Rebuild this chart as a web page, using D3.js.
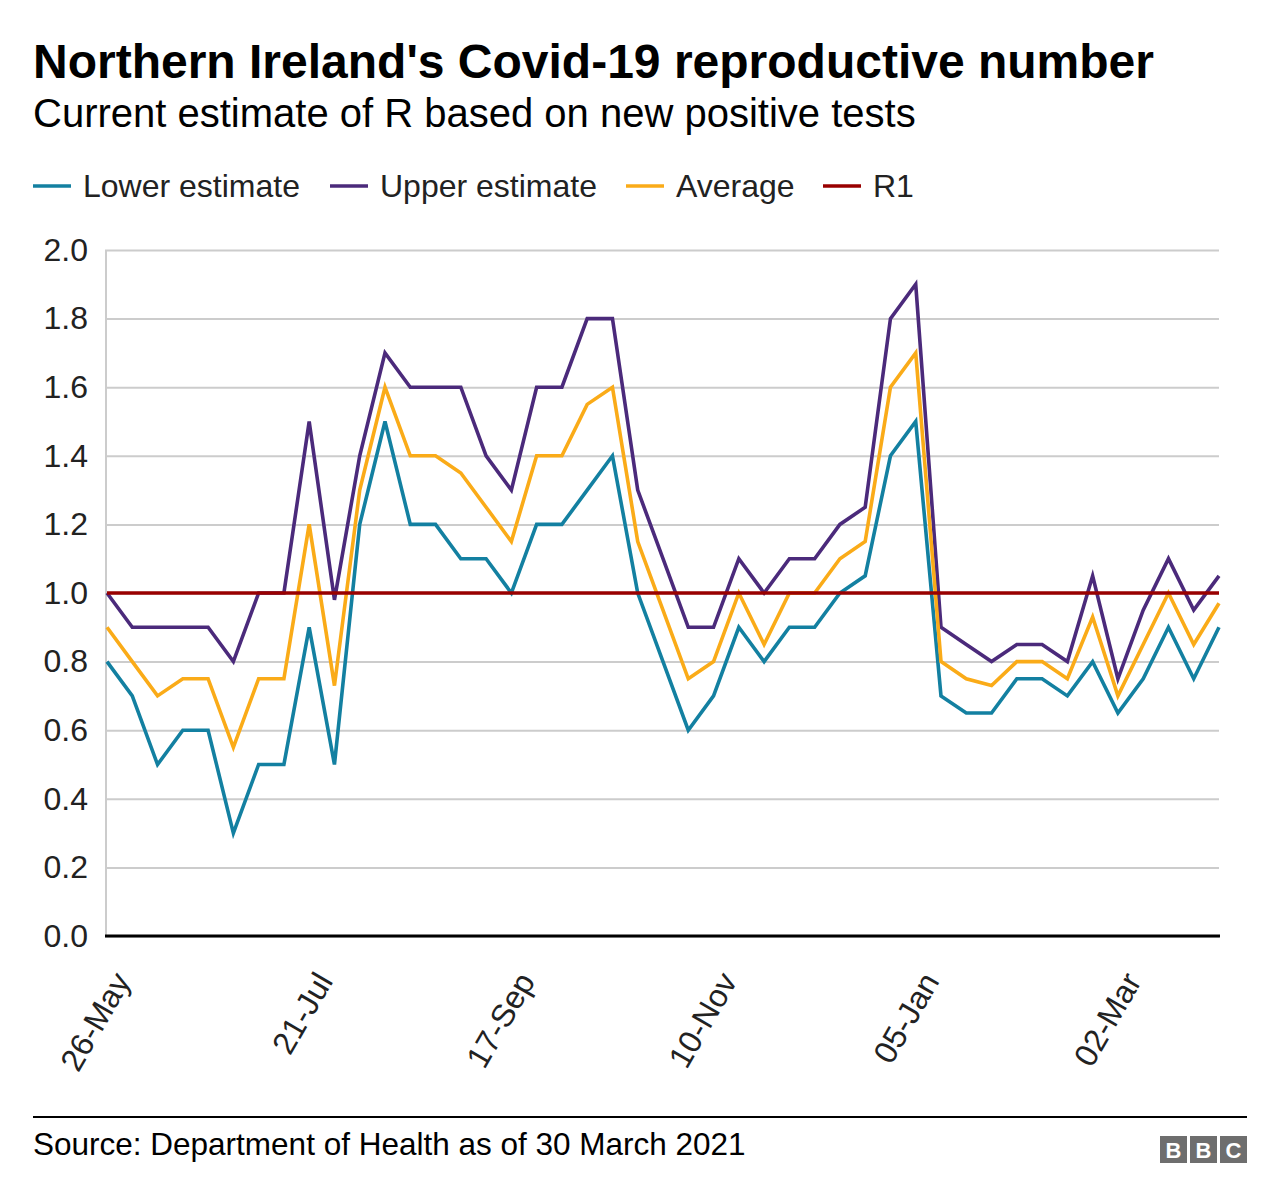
<!DOCTYPE html>
<html><head><meta charset="utf-8">
<script src="https://cdn.jsdelivr.net/npm/d3@7"></script>
<style>body{margin:0;background:#fff;font-family:"Liberation Sans",Arial,sans-serif;}</style>
</head><body><svg id="c" width="1280" height="1204"></svg>
<script>
const categories = ["26-May","02-Jun","09-Jun","16-Jun","23-Jun","30-Jun","07-Jul","14-Jul","21-Jul","28-Jul","04-Aug","11-Aug","18-Aug","25-Aug","01-Sep","08-Sep","17-Sep","24-Sep","01-Oct","08-Oct","15-Oct","22-Oct","27-Oct","03-Nov","10-Nov","17-Nov","24-Nov","01-Dec","08-Dec","15-Dec","22-Dec","29-Dec","05-Jan","12-Jan","19-Jan","26-Jan","02-Feb","09-Feb","16-Feb","23-Feb","02-Mar","09-Mar","16-Mar","23-Mar","30-Mar"];
const lowerEstimate = [0.8,0.7,0.5,0.6,0.6,0.3,0.5,0.5,0.9,0.5,1.2,1.5,1.2,1.2,1.1,1.1,1.0,1.2,1.2,1.3,1.4,1.0,0.8,0.6,0.7,0.9,0.8,0.9,0.9,1.0,1.05,1.4,1.5,0.7,0.65,0.65,0.75,0.75,0.7,0.8,0.65,0.75,0.9,0.75,0.9];
const upperEstimate = [1.0,0.9,0.9,0.9,0.9,0.8,1.0,1.0,1.5,0.98,1.4,1.7,1.6,1.6,1.6,1.4,1.3,1.6,1.6,1.8,1.8,1.3,1.1,0.9,0.9,1.1,1.0,1.1,1.1,1.2,1.25,1.8,1.9,0.9,0.85,0.8,0.85,0.85,0.8,1.05,0.75,0.95,1.1,0.95,1.05];
const average = [0.9,0.8,0.7,0.75,0.75,0.55,0.75,0.75,1.2,0.73,1.3,1.6,1.4,1.4,1.35,1.25,1.15,1.4,1.4,1.55,1.6,1.15,0.95,0.75,0.8,1.0,0.85,1.0,1.0,1.1,1.15,1.6,1.7,0.8,0.75,0.73,0.8,0.8,0.75,0.93,0.7,0.85,1.0,0.85,0.97];
const r1 = categories.map(() => 1.0);
const yTicks = [0,0.2,0.4,0.6,0.8,1.0,1.2,1.4,1.6,1.8,2.0];
const xTickLabels = ["26-May","21-Jul","17-Sep","10-Nov","05-Jan","02-Mar"];
const seriesNames = ["Lower estimate","Upper estimate","Average","R1"];
const colors = ["#1380A1","#4B2A7B","#FAAB18","#990000"];

const svg = d3.select("#c");
const F = '"Liberation Sans", Arial, sans-serif';
const pLeft = 107, pRight = 1219, pTop = 250, pBottom = 936;

svg.append("text").attr("x",33).attr("y",78).attr("font-family",F).attr("font-weight","bold").attr("font-size",48).attr("fill","#000").text("Northern Ireland's Covid-19 reproductive number");
svg.append("text").attr("x",33).attr("y",127).attr("font-family",F).attr("font-size",40).attr("fill","#000").text("Current estimate of R based on new positive tests");

// legend
const legX = [33, 330, 626, 823];
seriesNames.forEach((n,i)=>{
  svg.append("line").attr("x1",legX[i]).attr("x2",legX[i]+38).attr("y1",186).attr("y2",186).attr("stroke",colors[i]).attr("stroke-width",3.5);
  svg.append("text").attr("x",legX[i]+50).attr("y",197).attr("font-family",F).attr("font-size",32).attr("fill","#222").text(n);
});

const x = d3.scalePoint().domain(categories).range([pLeft,pRight]);
const y = d3.scaleLinear().domain([0,2]).range([pBottom,pTop]);

// grid
const yAxis = d3.axisLeft(y).tickValues(yTicks).tickFormat(d3.format(".1f")).tickSize(-(pRight-pLeft+2)).tickPadding(17);
const gy = svg.append("g").attr("transform",`translate(${pLeft-2},0)`).call(yAxis);
gy.select(".domain").remove();
gy.selectAll(".tick line").attr("stroke","#cccccc").attr("stroke-width",2);
gy.selectAll(".tick text").attr("font-family",F).attr("font-size",32).attr("fill","#222");
svg.append("line").attr("x1",pLeft-1).attr("x2",pLeft-1).attr("y1",pTop).attr("y2",pBottom).attr("stroke","#cccccc").attr("stroke-width",2);

const line = d3.line().x((d,i)=>x(categories[i])).y(d=>y(d));
[lowerEstimate, upperEstimate, average, r1].forEach((s,i)=>{
  svg.append("path").datum(s).attr("d",line).attr("fill","none").attr("stroke",colors[i]).attr("stroke-width",3.6).attr("stroke-linejoin","miter");
});

// baseline
svg.append("line").attr("x1",pLeft-2).attr("x2",pRight+1).attr("y1",y(0)).attr("y2",y(0)).attr("stroke","#000").attr("stroke-width",3);

// x axis
const xAxis = d3.axisBottom(x).tickValues(xTickLabels).tickSize(0).tickPadding(0);
const gx = svg.append("g").attr("transform",`translate(0,${pBottom})`).call(xAxis);
gx.select(".domain").remove();
gx.selectAll(".tick text").attr("font-family",F).attr("font-size",32).attr("fill","#222")
  .attr("text-anchor","end").attr("dy",0).attr("transform","translate(24,45) rotate(-60)");

// footer
svg.append("line").attr("x1",33).attr("x2",1247).attr("y1",1117).attr("y2",1117).attr("stroke","#000").attr("stroke-width",2);
svg.append("text").attr("x",33).attr("y",1155).attr("font-family",F).attr("font-size",31.5).attr("fill","#000").text("Source: Department of Health as of 30 March 2021");
const bbc = svg.append("g");
["B","B","C"].forEach((c,i)=>{
  bbc.append("rect").attr("x",1160+i*30).attr("y",1136).attr("width",27).attr("height",27).attr("fill","#6e6e6e");
  bbc.append("text").attr("x",1160+i*30+13.5).attr("y",1158).attr("text-anchor","middle").attr("font-family",F).attr("font-weight","bold").attr("font-size",22).attr("fill","#fff").text(c);
});
</script></body></html>
